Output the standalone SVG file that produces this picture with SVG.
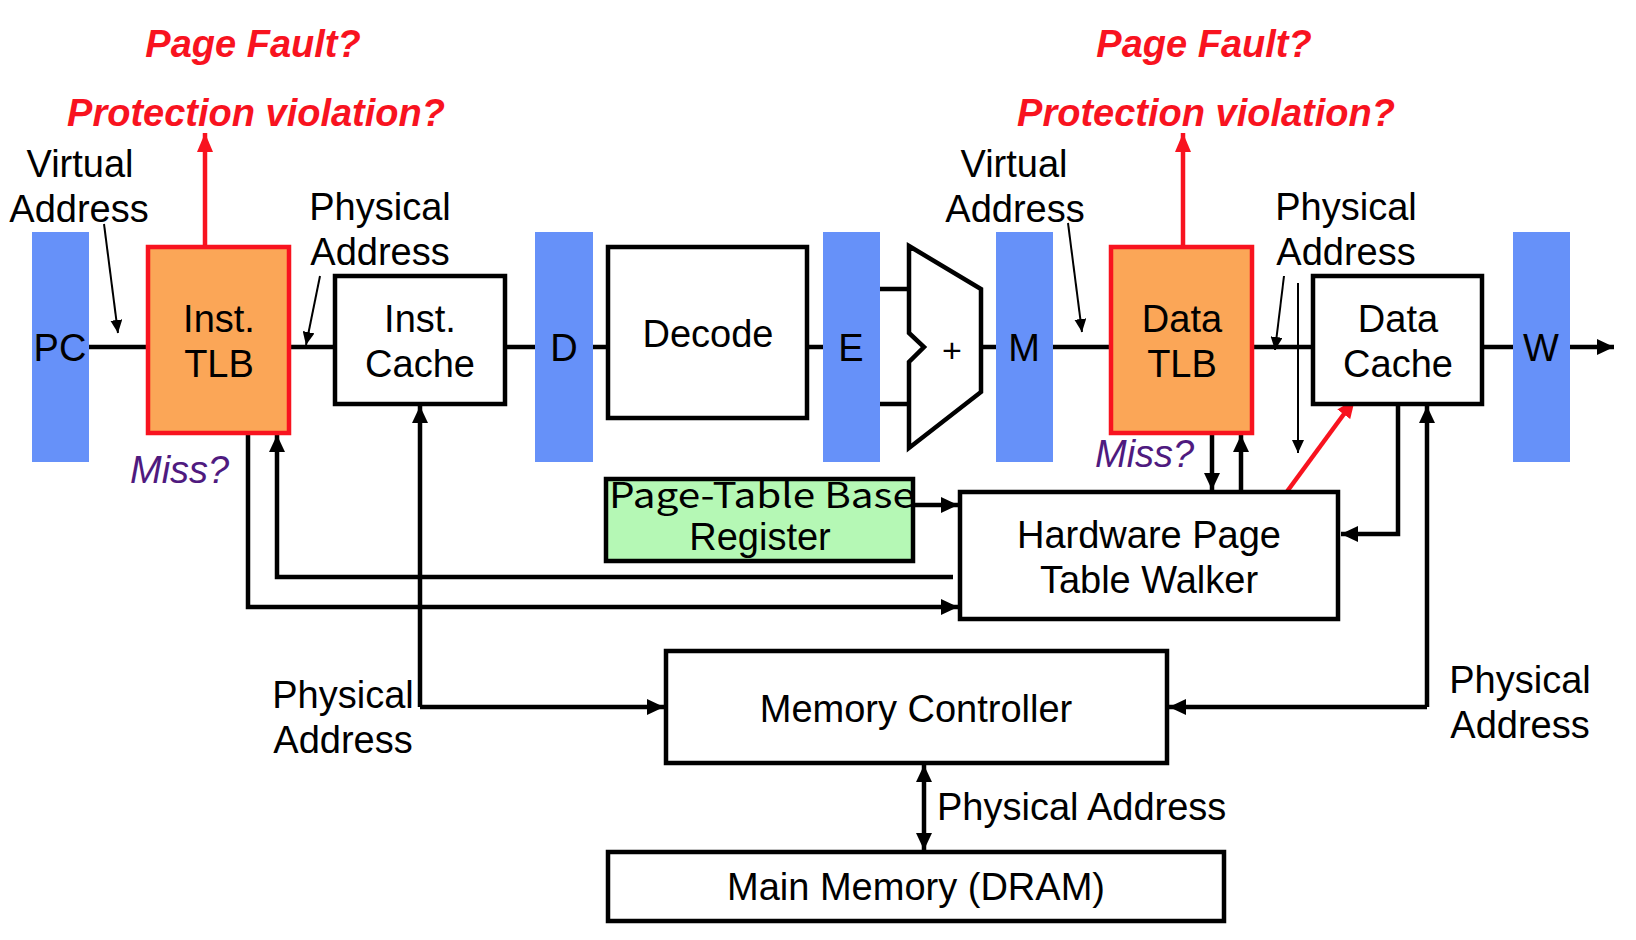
<svg xmlns="http://www.w3.org/2000/svg" width="1636" height="940" viewBox="0 0 1636 940">
<defs>
<style>
text{font-family:"Liberation Sans",Arial,Helvetica,sans-serif;fill:#000}
.lbl{font-size:38px}
.node{font-size:38px;text-anchor:middle}
.red{font-size:38px;font-weight:bold;font-style:italic;fill:#f8131f;text-anchor:middle}
.miss{font-size:38px;font-style:italic;fill:#4f1a7f}
.bar{fill:#6691f9}
.box{fill:#fff;stroke:#000;stroke-width:4.5}
.tlb{fill:#fba657;stroke:#f8131f;stroke-width:4.5}
.w{fill:none;stroke:#000;stroke-width:4.5}
.t{fill:none;stroke:#000;stroke-width:2}
.r{fill:none;stroke:#f8131f;stroke-width:4.5}
</style>
<marker id="ah" markerUnits="userSpaceOnUse" markerWidth="18" markerHeight="16" refX="17" refY="8" orient="auto"><path d="M0,0 L17,8 L0,16 z" fill="#000"/></marker>
<marker id="ahs" markerUnits="userSpaceOnUse" markerWidth="18" markerHeight="16" refX="1" refY="8" orient="auto"><path d="M18,0 L1,8 L18,16 z" fill="#000"/></marker>
<marker id="at" markerUnits="userSpaceOnUse" markerWidth="14" markerHeight="12" refX="13" refY="6" orient="auto"><path d="M0,0 L13,6 L0,12 z" fill="#000"/></marker>
<marker id="ar" markerUnits="userSpaceOnUse" markerWidth="20" markerHeight="16" refX="19" refY="8" orient="auto"><path d="M0,0 L19,8 L0,16 z" fill="#f8131f"/></marker>
</defs>
<rect width="1636" height="940" fill="#fff"/>

<g id="connectors">
<path class="w" d="M89,347 H148 M289,347 H335 M505,347 H535 M593,347 H608 M807,347 H823 M981,347 H996 M1053,347 H1111 M1252,347 H1313 M1482,347 H1513"/>
<path class="w" d="M1570,347 H1614" marker-end="url(#ah)"/>
<path class="w" d="M880,289 H909 M880,404 H909"/>
<path class="r" d="M205,247 V133" marker-end="url(#ar)"/>
<path class="r" d="M1183,247 V133" marker-end="url(#ar)"/>
<path class="r" d="M1283,497 L1355,399" marker-end="url(#ar)"/>
<path class="t" d="M104,224 L118,333" marker-end="url(#at)"/>
<path class="t" d="M320,276 L306,345" marker-end="url(#at)"/>
<path class="t" d="M1068,223 L1082,332" marker-end="url(#at)"/>
<path class="t" d="M1284,276 L1275,350" marker-end="url(#at)"/>
<path class="t" d="M1298,283 V453" marker-end="url(#at)"/>
<path class="w" d="M248,433 V607 H958" marker-end="url(#ah)"/>
<path class="w" d="M953,577 H277 V435" marker-end="url(#ah)"/>
<path class="w" d="M913,505 H958" marker-end="url(#ah)"/>
<path class="w" d="M1212,433 V490" marker-end="url(#ah)"/>
<path class="w" d="M1241,490 V435" marker-end="url(#ah)"/>
<path class="w" d="M1398,404 V534 H1341" marker-end="url(#ah)"/>
<path class="w" d="M420,707 V406" marker-end="url(#ah)"/>
<path class="w" d="M420,707 H664" marker-end="url(#ah)"/>
<path class="w" d="M1427,707 V406" marker-end="url(#ah)"/>
<path class="w" d="M1427,707 H1169" marker-end="url(#ah)"/>
<path class="w" d="M924,765 V850" marker-start="url(#ahs)" marker-end="url(#ah)"/>
</g>

<g id="pc"><rect class="bar" x="32" y="232" width="57" height="230"/><text class="node" x="60" y="361">PC</text></g>
<g id="inst-tlb"><rect class="tlb" x="148" y="247" width="141" height="186"/><text class="node" x="219" y="332">Inst.</text><text class="node" x="219" y="377">TLB</text></g>
<g id="inst-cache"><rect class="box" x="335" y="276" width="170" height="128"/><text class="node" x="420" y="332">Inst.</text><text class="node" x="420" y="377">Cache</text></g>
<g id="d"><rect class="bar" x="535" y="232" width="58" height="230"/><text class="node" x="564" y="361">D</text></g>
<g id="decode"><rect class="box" x="608" y="247" width="199" height="171"/><text class="node" x="708" y="347">Decode</text></g>
<g id="e"><rect class="bar" x="823" y="232" width="57" height="230"/><text class="node" x="851" y="361">E</text></g>
<g id="alu"><path class="box" d="M909,246 L981,289 L981,392 L909,448 L909,362 L924,347 L909,333 Z"/><text x="952" y="362" style="font-size:34px;text-anchor:middle">+</text></g>
<g id="m"><rect class="bar" x="996" y="232" width="57" height="230"/><text class="node" x="1024" y="361">M</text></g>
<g id="data-tlb"><rect class="tlb" x="1111" y="247" width="141" height="186"/><text class="node" x="1182" y="332">Data</text><text class="node" x="1182" y="377">TLB</text></g>
<g id="data-cache"><rect class="box" x="1313" y="276" width="169" height="128"/><text class="node" x="1398" y="332">Data</text><text class="node" x="1398" y="377">Cache</text></g>
<g id="w"><rect class="bar" x="1513" y="232" width="57" height="230"/><text class="node" x="1541" y="361">W</text></g>
<g id="ptbr"><rect x="606" y="479" width="307" height="82" fill="#b5f8b5" stroke="#000" stroke-width="4.5"/><text x="762" y="508" style="font-family:'Noto Sans CJK JP','Noto Sans',sans-serif;font-size:35px;text-anchor:middle" textLength="306" lengthAdjust="spacingAndGlyphs">Page-Table Base</text><text class="node" x="760" y="550">Register</text></g>
<g id="walker"><rect class="box" x="960" y="492" width="378" height="127"/><text class="node" x="1149" y="548">Hardware Page</text><text class="node" x="1149" y="593">Table Walker</text></g>
<g id="mc"><rect class="box" x="666" y="651" width="501" height="112"/><text class="node" x="916" y="722">Memory Controller</text></g>
<g id="mm"><rect class="box" x="608" y="852" width="616" height="69"/><text class="node" x="916" y="900">Main Memory (DRAM)</text></g>

<g id="labels">
<text class="red" x="253" y="57">Page Fault?</text>
<text class="red" x="256" y="126">Protection violation?</text>
<text class="red" x="1204" y="57">Page Fault?</text>
<text class="red" x="1206" y="126">Protection violation?</text>
<text class="lbl" x="80" y="177" text-anchor="middle">Virtual</text>
<text class="lbl" x="79" y="222" text-anchor="middle">Address</text>
<text class="lbl" x="380" y="220" text-anchor="middle">Physical</text>
<text class="lbl" x="380" y="265" text-anchor="middle">Address</text>
<text class="lbl" x="1014" y="177" text-anchor="middle">Virtual</text>
<text class="lbl" x="1015" y="222" text-anchor="middle">Address</text>
<text class="lbl" x="1346" y="220" text-anchor="middle">Physical</text>
<text class="lbl" x="1346" y="265" text-anchor="middle">Address</text>
<text class="miss" x="130" y="483">Miss?</text>
<text class="miss" x="1095" y="467">Miss?</text>
<text class="lbl" x="343" y="708" text-anchor="middle">Physical</text>
<text class="lbl" x="343" y="753" text-anchor="middle">Address</text>
<text class="lbl" x="1520" y="693" text-anchor="middle">Physical</text>
<text class="lbl" x="1520" y="738" text-anchor="middle">Address</text>
<text class="lbl" x="937" y="820">Physical Address</text>
</g>
</svg>
